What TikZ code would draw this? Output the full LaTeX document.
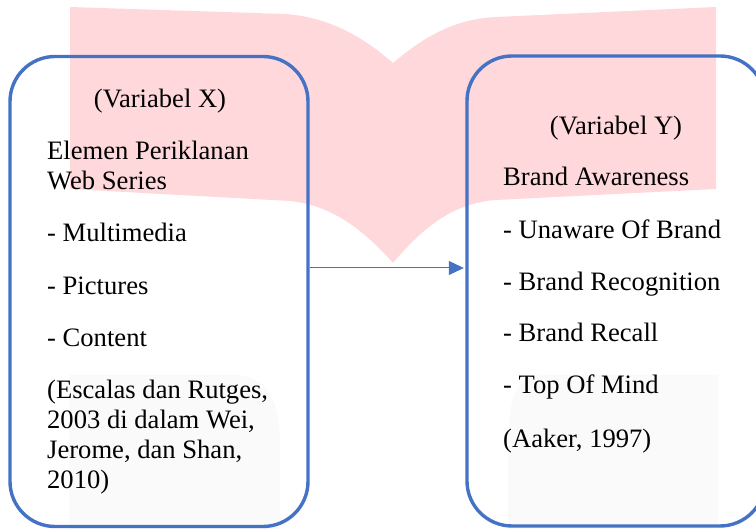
\documentclass[tikz,border=0pt]{standalone}
\usepackage{fontspec}
\setmainfont{Liberation Serif}
\usetikzlibrary{arrows.meta}

\definecolor{boxblue}{RGB}{68,114,196}
\definecolor{bookpink}{RGB}{255,216,219}
\definecolor{pagegrey}{RGB}{250,250,250}

\begin{document}
\begin{tikzpicture}[x=1pt,y=-1pt,
	varbox/.style={draw=boxblue,line width=3.4pt,rounded corners=45pt,minimum width=298pt,minimum height=470pt,inner sep=0pt},
	linetext/.style={anchor=base west,inner sep=0pt,font=\fontsize{26.6}{30}\selectfont},
	headtext/.style={anchor=base,inner sep=0pt,font=\fontsize{26.6}{30}\selectfont}]
	\useasboundingbox (0,0) rectangle (756,529);
	\clip (0,0) rectangle (756,529);

	%open book behind the boxes
	\fill[bookpink] (70,7) -- (285,14) .. controls (328,17) and (362,36) .. (393,63)
		.. controls (425,36) and (455,19) .. (496,17) -- (716,7) -- (716,189) -- (496,200)
		.. controls (455,203) and (425,225) .. (393,263)
		.. controls (362,228) and (330,205) .. (290,201) -- (70,189) -- cycle;

	%pale pages at the bottom
	\fill[pagegrey] (69,529) -- (69,375) -- (240,375) .. controls (268,380) and (279,400) .. (280,440) -- (280,529) -- cycle;
	\fill[pagegrey] (508,529) -- (508,440) .. controls (509,400) and (515,378) .. (540,375) -- (718,375) -- (718,529) -- cycle;

	%the two variables
	\node[varbox] (varx) at (159,291.5) {};
	\node[varbox] (vary) at (616,291) {};

	\draw[boxblue,line width=1pt,-{Triangle[length=15pt,width=14pt]},shorten >=1.5pt] (varx.east |- 0,268) -- (vary.west |- 0,268);

	%left box text
	\node[headtext] (xhead) at (160,108) {(Variabel X)};
	\node[linetext] (xname1) at (47,160) {Elemen Periklanan};
	\node[linetext] (xname2) at (47,190) {Web Series};
	\node[linetext] (xdim1) at (47,242) {- Multimedia};
	\node[linetext] (xdim2) at (47,295) {- Pictures};
	\node[linetext] (xdim3) at (47,347) {- Content};
	\node[linetext] (xsrc1) at (47,399) {(Escalas dan Rutges,};
	\node[linetext] (xsrc2) at (47,429) {2003 di dalam Wei,};
	\node[linetext] (xsrc3) at (47,459) {Jerome, dan Shan,};
	\node[linetext] (xsrc4) at (47,489) {2010)};

	%right box text
	\node[headtext] (yhead) at (616,135) {(Variabel Y)};
	\node[linetext] (yname) at (503,186) {Brand Awareness};
	\node[linetext] (ydim1) at (503,239) {- Unaware Of Brand};
	\node[linetext] (ydim2) at (503,291) {- Brand Recognition};
	\node[linetext] (ydim3) at (503,342) {- Brand Recall};
	\node[linetext] (ydim4) at (503,394) {- Top Of Mind};
	\node[linetext] (ysrc) at (503,448) {(Aaker, 1997)};
\end{tikzpicture}
\end{document}
